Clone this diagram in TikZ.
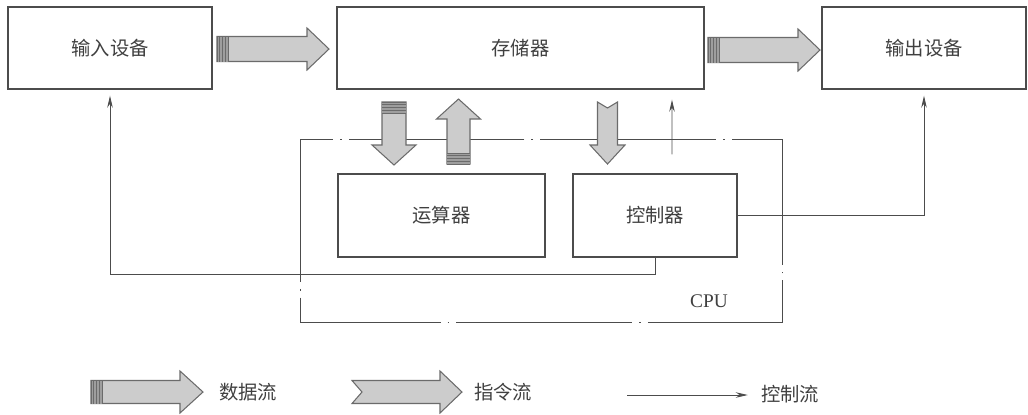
\documentclass[tikz,border=0pt]{standalone}
\usepackage{fontspec}
\newfontfamily\cjk{Noto Sans CJK SC}
\newfontfamily\tms{Liberation Serif}
\usetikzlibrary {arrows.meta,
                 positioning}
\definecolor{boxline}{gray}{0.3}
\definecolor{txt}{gray}{0.25}
\definecolor{arrfill}{gray}{0.8}
\definecolor{arrline}{gray}{0.42}
\definecolor{stripefill}{gray}{0.62}
\tikzset{
        unit/.style={draw=boxline, line width=0.8pt, text=txt,
                     font=\cjk\fontsize{11}{13}\selectfont,
                     minimum height=1.64cm},
        cpubox/.style={draw=boxline, line width=0.5pt,
                       dash pattern=on 100pt off 4pt on 1pt off 4pt,
                       dash phase=20pt},
        legend/.style={text=txt, font=\cjk\fontsize{11}{13}\selectfont},
        ctrlflow/.style={draw=boxline, line width=0.5pt,
                         -{Stealth[length=2.4mm, width=1.1mm]}},
        arrowbody/.style={draw=arrline, fill=arrfill, line width=0.6pt,
                          line join=miter},
        stripe/.style={draw=arrline, line width=0.5pt},
        pics/dataflow/.style n args={4}{code={
            % #1 length, #2 half shaft, #3 half head, #4 head length
            \draw[arrowbody] (0,-#2) -- (#1-#4,-#2) -- (#1-#4,-#3) -- (#1,0)
                -- (#1-#4,#3) -- (#1-#4,#2) -- (0,#2) -- cycle;
            \fill[stripefill] (0,-#2) rectangle (11,#2);
            \foreach \s in {0,2.75,...,11}
                \draw[stripe] (\s,-#2) -- (\s,#2);
        }},
        pics/instrflow/.style n args={5}{code={
            % #5 depth of the notch at the tail
            \draw[arrowbody] (0,-#2) -- (#1-#4,-#2) -- (#1-#4,-#3) -- (#1,0)
                -- (#1-#4,#3) -- (#1-#4,#2) -- (0,#2) -- (#5,0) -- cycle;
        }},
 }

\begin{document}
\begin{tikzpicture}[x=0.02cm, y=-0.02cm]
    \useasboundingbox (0,0) rectangle (1028,414);

    \node[unit, minimum width=4.08cm] (in)  at (110,48)   {输入设备};
    \node[unit, minimum width=7.34cm] (mem) at (520.5,48) {存储器};
    \node[unit, minimum width=4.08cm] (out) at (924,48)   {输出设备};

    \node[cpubox, minimum width=9.64cm, minimum height=3.66cm] (cpu)
          at (541,230.5) {};
    \node[unit, minimum width=4.14cm, minimum height=1.66cm] (alu)
          at (441.5,215.5) {运算器};
    \node[unit, minimum width=3.28cm, minimum height=1.66cm] (ctrl)
          at (655,215.5) {控制器};
    \node[text=txt, font=\tms\fontsize{11}{13}\selectfont] (cpulabel)
          at (709,301) {CPU};

    % data and instruction flow
    \pic at (217,49)               {dataflow={112}{12.5}{21}{22}};
    \pic at (708,50)               {dataflow={112}{12.5}{21}{22}};
    \pic[rotate=-90] at (394,102)  {dataflow={63}{12}{22}{20}};
    \pic[rotate=90]  at (458.5,164) {dataflow={65}{11.5}{22}{20}};
    \pic[rotate=-90] at (607.5,102) {instrflow={62}{10}{17.5}{19}{6}};

    % control flow
    \draw[ctrlflow, shorten >=1.2mm] (ctrl.south) -- ++(0,17) -| (in.south);
    \draw[ctrlflow, shorten >=1.2mm] (ctrl.east) -| (out.south);
    \draw[ctrlflow] ([shift={(17,-19)}]ctrl.north) -- ([shift={(151.5,10)}]mem.south);

    % legend
    \pic at (91,392)  {dataflow={112}{11.5}{21}{23}};
    \node[legend] (ldata) at (248,392) {数据流};
    \pic at (352,392) {instrflow={110}{11.5}{21}{22}{10}};
    \node[legend] (linstr) at (503,392) {指令流};
    \coordinate (lc) at (627,395);
    \node[legend] (lctrl) at (790,394) {控制流};
    \draw[ctrlflow] (lc) -- ([xshift=-4]lctrl.west |- lc);
\end{tikzpicture}
\end{document}
